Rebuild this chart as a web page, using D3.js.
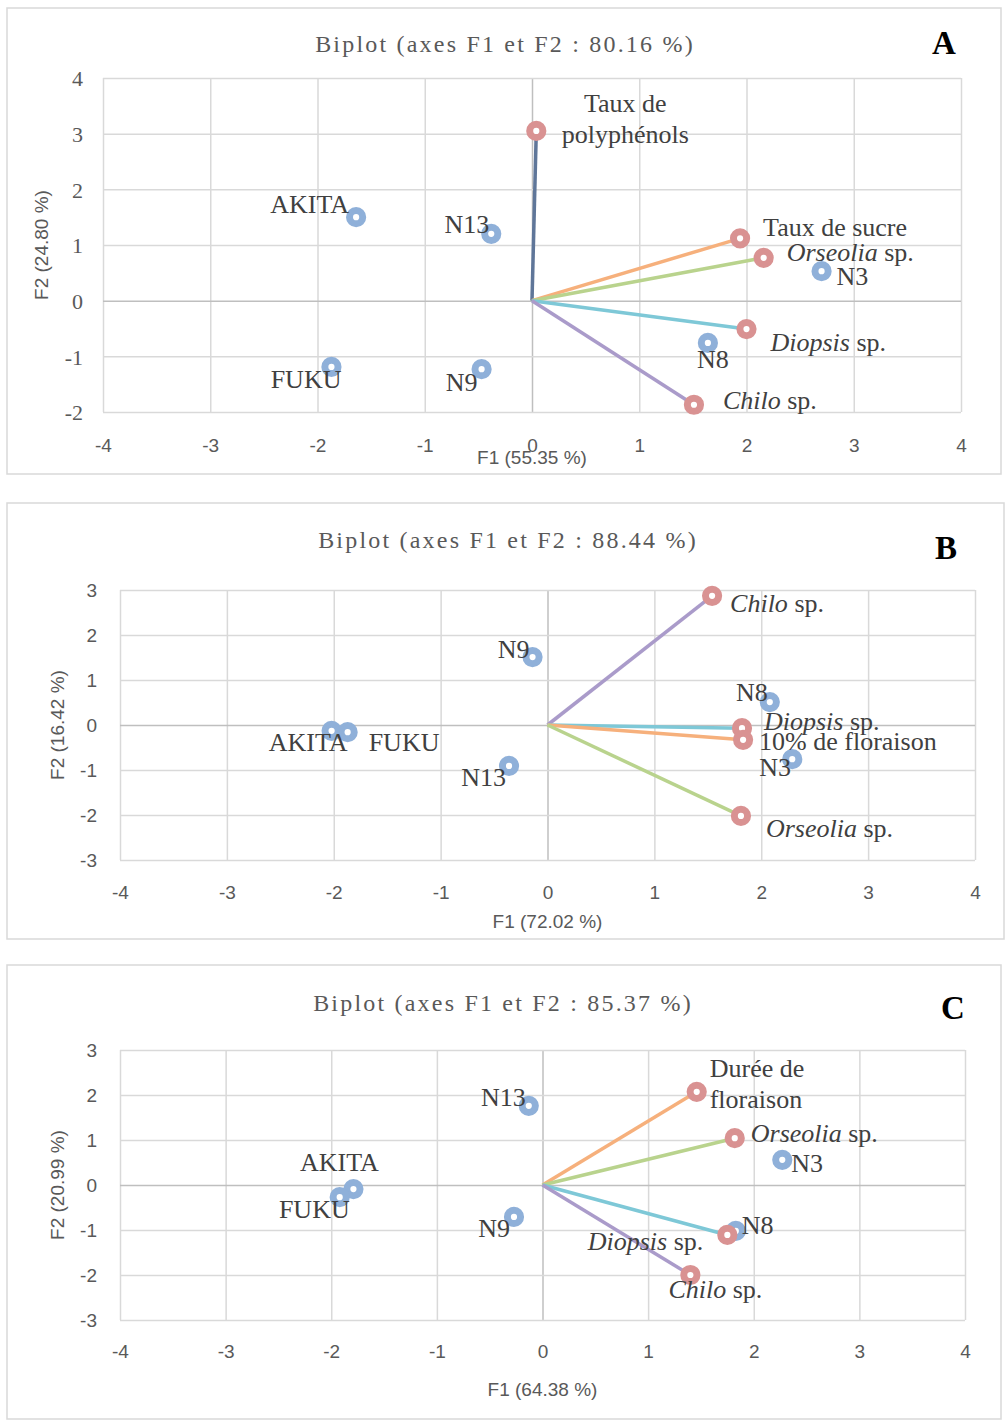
<!DOCTYPE html>
<html>
<head>
<meta charset="utf-8">
<script src="https://cdn.jsdelivr.net/npm/d3@7"></script>
<style>
  body { margin: 0; background: #fff; }
</style>
</head>
<body>
<div id="chart"></div>
<script>
// ---- data ----
var xTicks = [-4, -3, -2, -1, 0, 1, 2, 3, 4];

// A
var obsNamesA = ["AKITA", "N13", "FUKU", "N9", "N3", "N8"];
var obsF1A = [-1.64, -0.38, -1.87, -0.47, 2.70, 1.64];
var obsF2A = [1.50, 1.20, -1.19, -1.23, 0.53, -0.76];
var varNamesA = ["Taux de\npolyphénols", "Taux de sucre", "Orseolia sp.", "Diopsis sp.", "Chilo sp."];
var varF1A = [0.04, 1.94, 2.16, 2.00, 1.51];
var varF2A = [3.05, 1.12, 0.77, -0.51, -1.87];
var yTicksA = [-2, -1, 0, 1, 2, 3, 4];

// B
var obsNamesB = ["N9", "N8", "AKITA", "FUKU", "N13", "N3"];
var obsF1B = [-0.14, 2.08, -2.02, -1.87, -0.36, 2.29];
var obsF2B = [1.51, 0.51, -0.13, -0.16, -0.91, -0.76];
var varNamesB = ["Chilo sp.", "Diopsis sp.", "10% de floraison", "Orseolia sp."];
var varF1B = [1.54, 1.82, 1.83, 1.81];
var varF2B = [2.87, -0.07, -0.33, -2.02];
var yTicksB = [-3, -2, -1, 0, 1, 2, 3];

// C
var obsNamesC = ["N13", "AKITA", "FUKU", "N9", "N3", "N8"];
var obsF1C = [-0.13, -1.79, -1.92, -0.27, 2.27, 1.83];
var obsF2C = [1.76, -0.09, -0.27, -0.71, 0.56, -1.02];
var varNamesC = ["Durée de\nfloraison", "Orseolia sp.", "Diopsis sp.", "Chilo sp."];
var varF1C = [1.46, 1.82, 1.75, 1.40];
var varF2C = [2.07, 1.04, -1.11, -2.00];
var yTicksC = [-3, -2, -1, 0, 1, 2, 3];

// line colours for the variable vectors
var cPoly = "#5f7699", cOrange = "#f6b07c", cGreen = "#b9d38d", cCyan = "#7ec8d7", cPurple = "#aa9bca";

// label placement (anchor, dx, dy from marker centre)
var obsLabA = [["end", -7, -4], ["end", -2, -1], ["end", 10, 21], ["end", -4, 22], ["start", 15, 14], ["middle", 5, 25]];
var varLabA = [["middle", 89, -19], ["start", 23, -2], ["start", 23, 3], ["start", 24, 22], ["start", 29, 4]];
var obsLabB = [["end", -3, 1], ["end", -2, -1], ["end", 16, 20], ["start", 21, 19], ["end", -3, 20], ["start", -33, 17]];
var varLabB = [["start", 18, 16], ["start", 22, 2], ["start", 16, 10], ["start", 25, 21]];
var obsLabC = [["end", -3, 0], ["middle", -14, -18], ["end", 10, 21], ["end", -4, 20], ["start", 9, 12], ["start", 6, 3]];
var varLabC = [["start", 13, -15], ["start", 16, 4], ["end", -24, 15], ["start", -22, 23]];

var serif = "'Liberation Serif', 'Times New Roman', serif";
var sans = "'Liberation Sans', Arial, sans-serif";

var svg = d3.select("#chart").append("svg")
  .attr("width", 1005)
  .attr("height", 1421);

function writeLabel(sel, name) {
  var lines = name.split("\n");
  lines.forEach(function (line, i) {
    var t = sel.append("tspan");
    if (i > 0) t.attr("x", sel.attr("x")).attr("dy", 31);
    var m = line.match(/^(\S+)( sp\.)$/);
    if (m) {
      t.append("tspan").attr("font-style", "italic").text(m[1]);
      t.append("tspan").text(m[2]);
    } else {
      t.text(line);
    }
  });
}

function drawPanel(p) {
  var g = svg.append("g");

  g.append("rect")
    .attr("x", p.frame[0]).attr("y", p.frame[1])
    .attr("width", p.frame[2]).attr("height", p.frame[3])
    .attr("fill", "#fff")
    .attr("stroke", "#d9d9d9")
    .attr("stroke-width", 1.5);

  var xScale = d3.scaleLinear().domain([-4, 4]).range([p.left, p.right]);
  var yScale = d3.scaleLinear().domain(d3.extent(p.yTicks)).range([p.bottom, p.top]);

  // vertical grid + x tick labels
  var gx = g.append("g")
    .attr("transform", "translate(0," + p.bottom + ")")
    .call(d3.axisBottom(xScale).tickValues(xTicks)
      .tickSize(-(p.bottom - p.top)).tickFormat(function (d) { return String(d); }));
  gx.select(".domain").remove();
  gx.selectAll("line")
    .attr("stroke", function (d) { return d === 0 ? "#bfbfbf" : "#d9d9d9"; })
    .attr("stroke-width", 1.5);
  gx.selectAll("text")
    .attr("y", p.xTickY - p.bottom)
    .attr("dy", "0.35em")
    .attr("fill", "#595959")
    .style("font-family", sans)
    .style("font-size", "19px");

  // horizontal grid + y tick labels
  var gy = g.append("g")
    .attr("transform", "translate(" + p.left + ",0)")
    .call(d3.axisLeft(yScale).tickValues(p.yTicks)
      .tickSize(-(p.right - p.left)).tickFormat(function (d) { return String(d); }));
  gy.select(".domain").remove();
  gy.selectAll("line")
    .attr("stroke", function (d) { return d === 0 ? "#bfbfbf" : "#d9d9d9"; })
    .attr("stroke-width", 1.5);
  gy.selectAll("text")
    .attr("x", p.yTickX - p.left)
    .attr("dy", "0.35em")
    .attr("fill", "#595959")
    .style("font-family", p.yTickFont)
    .style("font-size", p.yTickSize);

  // titles
  g.append("text")
    .attr("x", p.titleX).attr("y", p.titleY)
    .attr("text-anchor", "middle")
    .attr("fill", "#595959")
    .style("font-family", serif)
    .style("font-size", "24px")
    .style("letter-spacing", "2.2px")
    .text(p.title);

  g.append("text")
    .attr("x", p.letterX).attr("y", p.letterY)
    .attr("text-anchor", "middle")
    .attr("fill", "#000")
    .style("font-family", serif)
    .style("font-weight", "bold")
    .style("font-size", "33px")
    .text(p.letter);

  g.append("text")
    .attr("x", (p.left + p.right) / 2).attr("y", p.xTitleY)
    .attr("text-anchor", "middle")
    .attr("fill", "#595959")
    .style("font-family", sans)
    .style("font-size", "19px")
    .text(p.xTitle);

  g.append("text")
    .attr("transform", "translate(" + p.yTitleX + "," + (p.top + p.bottom) / 2 + ") rotate(-90)")
    .attr("text-anchor", "middle")
    .attr("dy", "0.35em")
    .attr("fill", "#595959")
    .style("font-family", sans)
    .style("font-size", "19px")
    .text(p.yTitle);

  // vectors from the origin
  g.selectAll(".vec")
    .data(p.varNames)
    .enter().append("line")
    .attr("class", "vec")
    .attr("x1", xScale(0)).attr("y1", yScale(0))
    .attr("x2", function (d, i) { return xScale(p.varF1[i]); })
    .attr("y2", function (d, i) { return yScale(p.varF2[i]); })
    .attr("stroke", function (d, i) { return p.varColors[i]; })
    .attr("stroke-width", 3.5);

  // observation markers (blue rings)
  g.selectAll(".obs")
    .data(p.obsNames)
    .enter().append("circle")
    .attr("class", "obs")
    .attr("cx", function (d, i) { return xScale(p.obsF1[i]); })
    .attr("cy", function (d, i) { return yScale(p.obsF2[i]); })
    .attr("r", 6.6)
    .attr("fill", "#fff")
    .attr("stroke", "#8fb0d9")
    .attr("stroke-width", 7);

  // variable markers (red rings)
  g.selectAll(".var")
    .data(p.varNames)
    .enter().append("circle")
    .attr("class", "var")
    .attr("cx", function (d, i) { return xScale(p.varF1[i]); })
    .attr("cy", function (d, i) { return yScale(p.varF2[i]); })
    .attr("r", 6.6)
    .attr("fill", "#fff")
    .attr("stroke", "#d99292")
    .attr("stroke-width", 7);

  // labels
  function addLabels(names, f1, f2, lab) {
    names.forEach(function (name, i) {
      var x = xScale(f1[i]) + lab[i][1];
      var t = g.append("text")
        .attr("x", x)
        .attr("y", yScale(f2[i]) + lab[i][2])
        .attr("text-anchor", lab[i][0])
        .attr("fill", "#404040")
        .style("font-family", serif)
        .style("font-size", "26px");
      writeLabel(t, name);
    });
  }
  addLabels(p.obsNames, p.obsF1, p.obsF2, p.obsLab);
  addLabels(p.varNames, p.varF1, p.varF2, p.varLab);
}

drawPanel({
  frame: [7, 8, 994, 466],
  left: 103, right: 961, top: 78, bottom: 412,
  yTicks: yTicksA, xTickY: 445, yTickX: 83, yTickFont: serif, yTickSize: "22px",
  title: "Biplot (axes F1 et F2 : 80.16 %)", titleX: 505, titleY: 52,
  letter: "A", letterX: 944, letterY: 54,
  xTitle: "F1 (55.35 %)", xTitleY: 464,
  yTitle: "F2 (24.80 %)", yTitleX: 41,
  obsNames: obsNamesA, obsF1: obsF1A, obsF2: obsF2A, obsLab: obsLabA,
  varNames: varNamesA, varF1: varF1A, varF2: varF2A, varLab: varLabA,
  varColors: [cPoly, cOrange, cGreen, cCyan, cPurple]
});

drawPanel({
  frame: [7, 503, 997, 436],
  left: 120, right: 975, top: 590, bottom: 860,
  yTicks: yTicksB, xTickY: 892, yTickX: 97, yTickFont: sans, yTickSize: "19px",
  title: "Biplot (axes F1 et F2 : 88.44 %)", titleX: 508, titleY: 548,
  letter: "B", letterX: 946, letterY: 559,
  xTitle: "F1 (72.02 %)", xTitleY: 928,
  yTitle: "F2 (16.42 %)", yTitleX: 57,
  obsNames: obsNamesB, obsF1: obsF1B, obsF2: obsF2B, obsLab: obsLabB,
  varNames: varNamesB, varF1: varF1B, varF2: varF2B, varLab: varLabB,
  varColors: [cPurple, cCyan, cOrange, cGreen]
});

drawPanel({
  frame: [7, 965, 994, 454],
  left: 120, right: 965, top: 1050, bottom: 1320,
  yTicks: yTicksC, xTickY: 1351, yTickX: 97, yTickFont: sans, yTickSize: "19px",
  title: "Biplot (axes F1 et F2 : 85.37 %)", titleX: 503, titleY: 1011,
  letter: "C", letterX: 953, letterY: 1019,
  xTitle: "F1 (64.38 %)", xTitleY: 1396,
  yTitle: "F2 (20.99 %)", yTitleX: 57,
  obsNames: obsNamesC, obsF1: obsF1C, obsF2: obsF2C, obsLab: obsLabC,
  varNames: varNamesC, varF1: varF1C, varF2: varF2C, varLab: varLabC,
  varColors: [cOrange, cGreen, cCyan, cPurple]
});
</script>
</body>
</html>
